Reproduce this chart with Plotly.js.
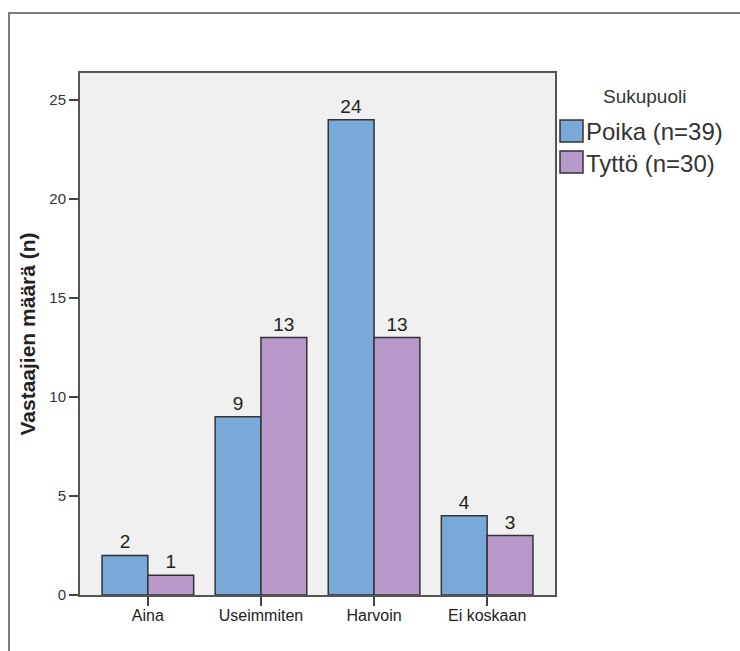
<!DOCTYPE html>
<html>
<head>
<meta charset="utf-8">
<script src="https://cdn.plot.ly/plotly-3.0.1.min.js"></script>
<style>
  html, body { margin: 0; padding: 0; background: #fff; overflow: hidden; }
  #wrap { position: relative; width: 740px; height: 651px; overflow: hidden; }
  .rule { position: absolute; background: #7a7a7a; pointer-events: none; }
  #rule-top { left: 8px; top: 12px; width: 732px; height: 2px; }
  #rule-left { left: 8px; top: 12px; width: 2px; height: 639px; }
  #chart { position: absolute; left: 0; top: 0; width: 740px; height: 651px; }
</style>
</head>
<body>
<div id="wrap">
  <div id="chart"></div>
  <div class="rule" id="rule-top"></div>
  <div class="rule" id="rule-left"></div>
</div>
<script>
// Answer categories
const categories = ['Aina', 'Useimmiten', 'Harvoin', 'Ei koskaan'];
// Counts per gender
const poika = [2, 9, 24, 4];
const tytto = [1, 13, 13, 3];
const seriesNames = ['Poika (n=39)', 'Tyttö (n=30)'];
const legendTitle = 'Sukupuoli';
const yTitle = 'Vastaajien määrä (n)';
const yTicks = [0, 5, 10, 15, 20, 25];

const colors = ['#79a9d9', '#b899ca'];
const font = 'Liberation Sans, Arial, sans-serif';

function barTrace(vals, name, color) {
  return {
    type: 'bar', x: categories, y: vals, name: name,
    text: vals.map(String), textposition: 'outside', cliponaxis: false,
    textfont: { family: font, size: 19, color: '#222' },
    marker: { color: color, line: { color: '#333', width: 1.5 } },
    hoverinfo: 'x+y+name'
  };
}

// Plot-area pixel box, used to place the legend swatches in paper units
const L = 80, R = 555, T = 73, B = 595;
const px = v => (v - L) / (R - L);
const py = v => (B - v) / (B - T);

const legendRows = [
  { top: 120, bottom: 142 },
  { top: 151, bottom: 173 }
];
const shapes = [];
const annotations = [{
  text: legendTitle, xref: 'paper', yref: 'paper', x: px(644), y: py(96),
  xanchor: 'center', yanchor: 'middle', showarrow: false,
  font: { family: font, size: 19, color: '#333' }
}];
seriesNames.forEach((n, i) => {
  const r = legendRows[i];
  shapes.push({
    type: 'rect', xref: 'paper', yref: 'paper',
    x0: px(560), x1: px(583), y0: py(r.bottom), y1: py(r.top),
    fillcolor: colors[i], line: { color: '#333', width: 1.5 }
  });
  annotations.push({
    text: n, xref: 'paper', yref: 'paper', x: px(584), y: py((r.top + r.bottom) / 2 + 1),
    xanchor: 'left', yanchor: 'middle', showarrow: false,
    font: { family: font, size: 24, color: '#333' }
  });
});

const layout = {
  width: 740, height: 651,
  margin: { l: L, r: 740 - R, t: T, b: 651 - B, pad: 0 },
  paper_bgcolor: '#ffffff', plot_bgcolor: '#f0f0f0',
  showlegend: false,
  barmode: 'group', bargap: 0.19, bargroupgap: 0,
  font: { family: font, color: '#222' },
  xaxis: {
    type: 'category', range: [-0.6, 3.6], fixedrange: true,
    showline: true, mirror: true, linecolor: '#555', linewidth: 2,
    ticks: 'outside', ticklen: 9, tickwidth: 1.5, tickcolor: '#444',
    ticklabelstandoff: -4,
    tickfont: { family: font, size: 16, color: '#222' },
    showgrid: false, zeroline: false
  },
  yaxis: {
    range: [0, 26.36], tickvals: yTicks, fixedrange: true,
    showline: true, mirror: true, linecolor: '#555', linewidth: 2,
    ticks: 'outside', ticklen: 9, tickwidth: 1.5, tickcolor: '#444',
    tickfont: { family: font, size: 15, color: '#333' },
    showgrid: false, zeroline: false,
    title: { text: yTitle, standoff: 8, font: { family: font, size: 21, color: '#222', weight: 'bold' } }
  },
  shapes: shapes,
  annotations: annotations
};

Plotly.newPlot('chart', [barTrace(poika, seriesNames[0], colors[0]), barTrace(tytto, seriesNames[1], colors[1])],
  layout, { displayModeBar: false, staticPlot: true });
</script>
</body>
</html>
